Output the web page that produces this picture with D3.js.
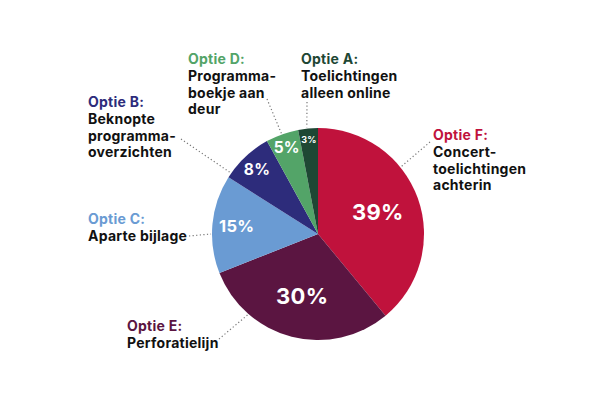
<!DOCTYPE html>
<html>
<head>
<meta charset="utf-8">
<script src="https://cdn.jsdelivr.net/npm/d3@7"></script>
<style>
  body { margin: 0; background: #fff; }
  text { font-family: Inter, "DejaVu Sans", sans-serif; font-weight: 700; }
</style>
</head>
<body>
<div id="chart"></div>
<script>
// data, clockwise from 12 o'clock
const categories = ["Optie F", "Optie E", "Optie C", "Optie B", "Optie D", "Optie A"]
const descriptions = [
  ["Concert-", "toelichtingen", "achterin"],
  ["Perforatielijn"],
  ["Aparte bijlage"],
  ["Beknopte", "programma-", "overzichten"],
  ["Programma-", "boekje aan", "deur"],
  ["Toelichtingen", "alleen online"]
]
const values = [39, 30, 15, 8, 5, 3]
const colors = ["#c0123c", "#5b1541", "#6a9bd3", "#2d2c7b", "#53a468", "#1e4734"]

// layout per slice
const labelPos = [[433, 140], [127, 331], [88, 224], [88, 107], [188, 64], [301, 64]]
const leaderFrom = [[430, 142], [219, 339], [189, 236], [181, 139], [267, 99], [307, 102]]
const leaderAngle = [51, 221, 270, 305, 340, 354]
const pctRadius = [0.6, 0.6, 0.77, 0.84, 0.87, 0.9]
const pctSize = [22, 22, 16.5, 15.5, 15.5, 9]

const width = 600
const height = 400
const cx = 318
const cy = 234
const radius = 106

const svg = d3.select("#chart")
  .append("svg")
  .attr("width", width)
  .attr("height", height)

const pie = d3.pie().sort(null).value((d) => d)
const arcs = pie(values)
const arc = d3.arc().innerRadius(0).outerRadius(radius)

const g = svg.append("g").attr("transform", `translate(${cx},${cy})`)

g.selectAll("path")
  .data(arcs)
  .join("path")
  .attr("d", arc)
  .attr("fill", (d, i) => colors[i])

g.selectAll("text.pct")
  .data(arcs)
  .join("text")
  .attr("class", "pct")
  .attr("transform", (d, i) => {
    const a = (d.startAngle + d.endAngle) / 2
    const r = radius * pctRadius[i]
    return `translate(${r * Math.sin(a)},${-r * Math.cos(a)})`
  })
  .attr("text-anchor", "middle")
  .attr("dominant-baseline", "central")
  .attr("fill", "#fff")
  .attr("font-weight", 800)
  .attr("letter-spacing", 0.3)
  .attr("font-size", (d, i) => pctSize[i])
  .text((d) => d.value + "%")

// dotted leaders
svg.selectAll("line.leader")
  .data(arcs)
  .join("line")
  .attr("class", "leader")
  .attr("x1", (d, i) => leaderFrom[i][0])
  .attr("y1", (d, i) => leaderFrom[i][1])
  .attr("x2", (d, i) => cx + (radius + 1) * Math.sin(leaderAngle[i] * Math.PI / 180))
  .attr("y2", (d, i) => cy - (radius + 1) * Math.cos(leaderAngle[i] * Math.PI / 180))
  .attr("stroke", "#777")
  .attr("stroke-width", 1.2)
  .attr("stroke-dasharray", "1.2,2.4")

// category labels
const labels = svg.selectAll("text.label")
  .data(categories)
  .join("text")
  .attr("class", "label")
  .attr("x", (d, i) => labelPos[i][0])
  .attr("y", (d, i) => labelPos[i][1])
  .attr("font-size", 14)
  .attr("letter-spacing", 0.25)

labels.append("tspan")
  .attr("fill", (d, i) => colors[i])
  .text((d) => d + ":")

labels.each(function (d, i) {
  d3.select(this).selectAll("tspan.desc")
    .data(descriptions[i])
    .join("tspan")
    .attr("class", "desc")
    .attr("x", labelPos[i][0])
    .attr("dy", 16.8)
    .attr("fill", "#111")
    .text((t) => t)
})
</script>
</body>
</html>
